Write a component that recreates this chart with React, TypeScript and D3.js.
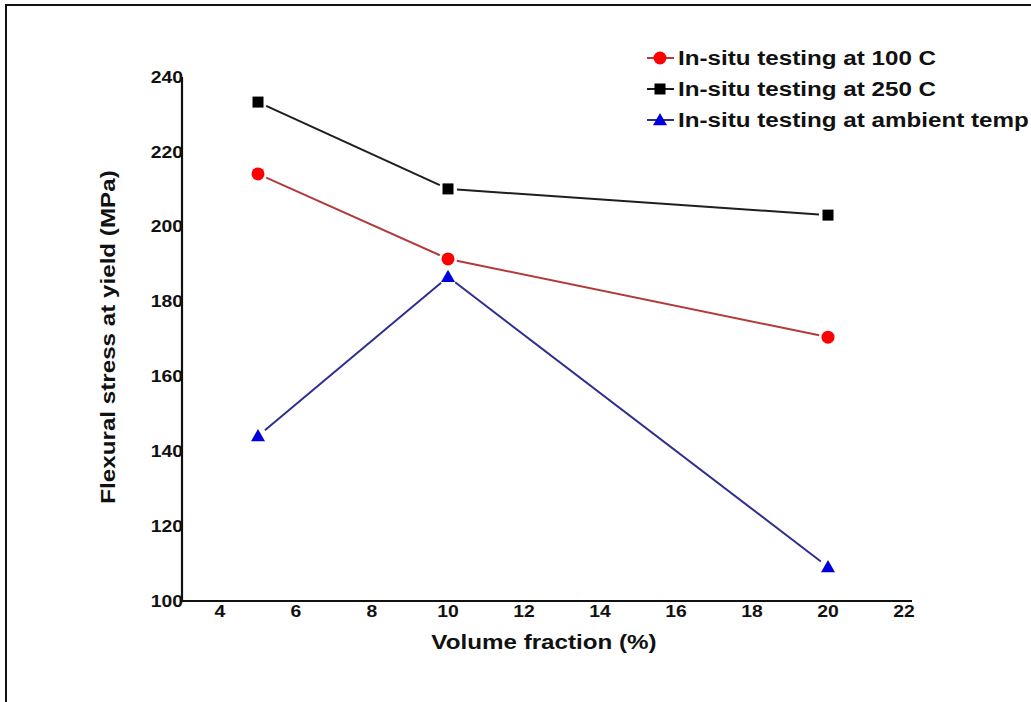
import React from "react";
import * as d3 from "d3";

const volumeFraction = [5, 10, 20];
const stress100C = [214.1, 191.4, 170.5];
const stress250C = [233.3, 210.1, 203.1];
const stressAmbient = [144.1, 186.6, 109.1];
const xTicks = [4, 6, 8, 10, 12, 14, 16, 18, 20, 22];
const yTicks = [100, 120, 140, 160, 180, 200, 220, 240];
const legendLabels = [
  "In-situ testing at 100 C",
  "In-situ testing at 250 C",
  "In-situ testing at ambient temp",
];

const W = 1031;
const H = 702;
const FONT = "'Liberation Sans', Arial, sans-serif";
const SX = 1.21; // horizontal stretch of text in the reference

type Series = {
  values: number[];
  line: string;
  fill: string;
  shape: "circle" | "square" | "triangle";
};

const series: Series[] = [
  { values: stress250C, line: "#1e1e1e", fill: "#000000", shape: "square" },
  { values: stress100C, line: "#b23a3a", fill: "#ff0000", shape: "circle" },
  { values: stressAmbient, line: "#2e2e8f", fill: "#0000dd", shape: "triangle" },
];

function Marker({ shape, x, y, fill }: { shape: string; x: number; y: number; fill: string }) {
  if (shape === "circle") return <circle cx={x} cy={y} r={6.5} fill={fill} />;
  if (shape === "square") return <rect x={x - 5.5} y={y - 5.5} width={11} height={11} fill={fill} />;
  const s = 7;
  return (
    <path
      d={`M${x},${y - s} L${x + s},${y + s * 0.75} L${x - s},${y + s * 0.75} Z`}
      fill={fill}
    />
  );
}

function T({
  x,
  y,
  anchor = "start",
  size,
  rotate = 0,
  children,
}: {
  x: number;
  y: number;
  anchor?: string;
  size: number;
  rotate?: number;
  children: React.ReactNode;
}) {
  return (
    <text
      transform={`translate(${x},${y}) rotate(${rotate}) scale(${SX},1)`}
      dy="0.36em"
      textAnchor={anchor}
      fontSize={size}
      fontWeight="bold"
      fill="#111"
    >
      {children}
    </text>
  );
}

export default function App() {
  const x = d3.scaleLinear().domain([3, 22]).range([182, 904]);
  const y = d3.scaleLinear().domain([100, 240]).range([601, 77]);
  const gap = 9;

  return (
    <svg
      width={W}
      height={H}
      style={{ position: "absolute", left: 0, top: 0, background: "#fff" }}
      fontFamily={FONT}
    >
      <rect x={6} y={5} width={W + 20} height={H + 20} fill="#fff" stroke="#111" strokeWidth={2} />

      {/* axes */}
      <line x1={x(3)} x2={x(3)} y1={y(240)} y2={y(100) + 1} stroke="#111" strokeWidth={2.2} />
      <line x1={x(3)} x2={x(22) + 8} y1={y(100)} y2={y(100)} stroke="#111" strokeWidth={2.2} />

      {yTicks.map((t) => (
        <T key={"y" + t} x={x(3) + 1} y={y(t)} anchor="end" size={16}>
          {t}
        </T>
      ))}
      {xTicks.map((t) => (
        <T key={"x" + t} x={x(t)} y={y(100) + 10} anchor="middle" size={16}>
          {t}
        </T>
      ))}

      <T x={544} y={642} anchor="middle" size={20}>
        Volume fraction (%)
      </T>
      <text
        transform={`translate(108,337) rotate(-90) scale(${SX},1)`}
        dy="0.36em"
        textAnchor="middle"
        fontSize={20}
        fontWeight="bold"
        fill="#111"
      >
        Flexural stress at yield (MPa)
      </text>

      {/* series lines with gaps near markers */}
      {series.map((s, si) =>
        s.values.slice(1).map((v, i) => {
          const x1 = x(volumeFraction[i]);
          const y1 = y(s.values[i]);
          const x2 = x(volumeFraction[i + 1]);
          const y2 = y(v);
          const len = Math.hypot(x2 - x1, y2 - y1);
          const ux = (x2 - x1) / len;
          const uy = (y2 - y1) / len;
          return (
            <line
              key={`l${si}-${i}`}
              x1={x1 + ux * gap}
              y1={y1 + uy * gap}
              x2={x2 - ux * gap}
              y2={y2 - uy * gap}
              stroke={s.line}
              strokeWidth={2}
            />
          );
        })
      )}
      {series.map((s, si) =>
        s.values.map((v, i) => (
          <Marker key={`m${si}-${i}`} shape={s.shape} x={x(volumeFraction[i])} y={y(v)} fill={s.fill} />
        ))
      )}

      {/* legend */}
      {[series[1], series[0], series[2]].map((s, i) => {
        const ly = 58 + i * 31;
        return (
          <g key={"lg" + i}>
            <line x1={647} x2={674} y1={ly} y2={ly} stroke={s.line} strokeWidth={2} />
            <Marker shape={s.shape} x={660} y={ly} fill={s.fill} />
            <T x={678} y={ly} size={20}>
              {legendLabels[i]}
            </T>
          </g>
        );
      })}
    </svg>
  );
}
